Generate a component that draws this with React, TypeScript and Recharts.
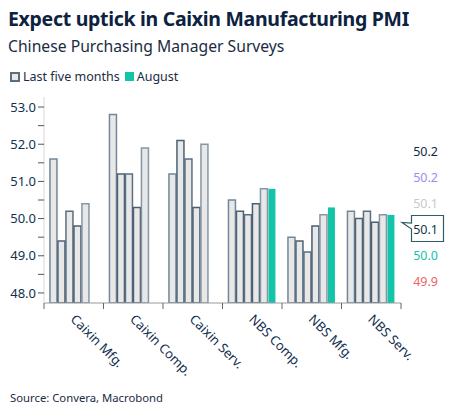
import { BarChart, Bar, XAxis, YAxis } from "recharts";

const categories = ["Caixin Mfg.", "Caixin Comp.", "Caixin Serv.", "NBS Comp.", "NBS Mfg.", "NBS Serv."];
const month1 = [51.6, 52.8, 51.2, 50.5, 49.5, 50.2];
const month2 = [49.4, 51.2, 52.1, 50.2, 49.4, 50.0];
const month3 = [50.2, 51.2, 51.6, 50.1, 49.1, 50.2];
const month4 = [49.8, 50.3, 50.3, 50.4, 49.8, 49.9];
const month5 = [50.4, 51.9, 52.0, 50.8, 50.1, 50.1];
const august = [null, null, null, 50.8, 50.3, 50.1];
const yTicks = [48, 48.5, 49, 49.5, 50, 50.5, 51, 51.5, 52, 52.5, 53];
const sideLabels = ["50.2", "50.2", "50.1", "50.1", "50.0", "49.9"];
const sideColors = ["#0f2a45", "#9c8df2", "#c9c9c9", "#163746", "#13c4a8", "#ee6464"];

const data = categories.map((name, i) => ({
  name,
  m1: month1[i],
  m2: month2[i],
  m3: month3[i],
  m4: month4[i],
  m5: month5[i],
  aug: august[i],
}));

const W = 453;
const H = 417;
const PLOT_LEFT = 44;
const PLOT_RIGHT = 401;
const BAND = (PLOT_RIGHT - PLOT_LEFT) / categories.length;
const FONT = "'Noto Sans', 'Open Sans', sans-serif";
const NAVY = "#13304f";

const greyStrokes = ["#73879a", "#4d6275", "#5a6e80", "#4a5e70", "#8596a6"];

function XTick(props: any) {
  const { x, y, payload, index } = props;
  return (
    <g>
      <line x1={x - BAND / 2} y1={y - 8} x2={x - BAND / 2} y2={y - 2} stroke="#666" />
      {index === categories.length - 1 && (
        <line x1={x + BAND / 2} y1={y - 8} x2={x + BAND / 2} y2={y - 2} stroke="#666" />
      )}
      <text
        x={x - 4}
        y={y + 9}
        transform={`rotate(45 ${x - 4} ${y + 9})`}
        textAnchor="start"
        fontSize={13}
        fill={NAVY}
        fontFamily={FONT}
      >
        {payload.value}
      </text>
    </g>
  );
}

export default function App() {
  return (
    <div
      style={{
        position: "absolute",
        left: 0,
        top: 0,
        width: W,
        height: H,
        background: "#fff",
        fontFamily: FONT,
        overflow: "hidden",
      }}
    >
      <div style={{ position: "absolute", left: 8, top: 5, fontSize: 19.5, fontWeight: 700, color: "#0c2240", letterSpacing: -0.3, whiteSpace: "nowrap" }}>
        Expect uptick in Caixin Manufacturing PMI
      </div>
      <div style={{ position: "absolute", left: 8, top: 35, fontSize: 15.7, color: "#1b2c42", whiteSpace: "nowrap" }}>
        Chinese Purchasing Manager Surveys
      </div>
      <div style={{ position: "absolute", left: 10, top: 68, fontSize: 12.5, color: "#1b2c42", display: "flex", alignItems: "center", whiteSpace: "nowrap" }}>
        <span style={{ width: 6, height: 6, border: "2px solid #5a6e80", background: "#e8e8e8", marginRight: 3, display: "inline-block" }} />
        <span style={{ marginRight: 5 }}>Last five months</span>
        <span style={{ width: 9, height: 9, background: "#13c4a8", marginRight: 3, display: "inline-block" }} />
        <span>August</span>
      </div>

      <div style={{ position: "absolute", left: 0, top: 0 }}>
        <BarChart
          width={W}
          height={H}
          data={data}
          margin={{ top: 97, right: W - PLOT_RIGHT, bottom: 34, left: 0 }}
          barCategoryGap="10%"
          barGap={1}
        >
          <XAxis
            dataKey="name"
            height={80}
            tickLine={false}
            axisLine={{ stroke: "#9a9a9a" }}
            tick={<XTick />}
            interval={0}
          />
          <YAxis
            width={PLOT_LEFT}
            domain={[47.73, 53.27]}
            ticks={yTicks}
            allowDataOverflow
            axisLine={{ stroke: "#d6d6d6" }}
            tickLine={{ stroke: "#555" }}
            tickSize={6}
            tick={{ fontSize: 13, fill: NAVY, fontFamily: FONT }}
            tickFormatter={(v: number) => (Number.isInteger(v) ? v.toFixed(1) : "")}
          />
          <Bar dataKey="m1" fill="#e8e8e8" stroke={greyStrokes[0]} strokeWidth={1.5} isAnimationActive={false} />
          <Bar dataKey="m2" fill="#e8e8e8" stroke={greyStrokes[1]} strokeWidth={1.5} isAnimationActive={false} />
          <Bar dataKey="m3" fill="#e8e8e8" stroke={greyStrokes[2]} strokeWidth={1.5} isAnimationActive={false} />
          <Bar dataKey="m4" fill="#e8e8e8" stroke={greyStrokes[3]} strokeWidth={1.5} isAnimationActive={false} />
          <Bar dataKey="m5" fill="#e8e8e8" stroke={greyStrokes[4]} strokeWidth={1.5} isAnimationActive={false} />
          <Bar dataKey="aug" fill="#13c4a8" isAnimationActive={false} />
        </BarChart>
      </div>

      <svg style={{ position: "absolute", left: 0, top: 0 }} width={W} height={H}>
        <path
          d="M411.5 215.5 H443.5 V241.5 H411.5 V229 L402 222.5 L411.5 223 Z"
          fill="#fff"
          stroke="#2e5c68"
          strokeWidth={1.2}
        />
        {sideLabels.map((v, i) => (
          <text
            key={i}
            x={438}
            y={156 + i * 26}
            textAnchor="end"
            fontSize={12.5}
            fill={sideColors[i]}
            fontFamily={FONT}
          >
            {v}
          </text>
        ))}
      </svg>

      <div style={{ position: "absolute", left: 10, top: 390, fontSize: 11.3, color: "#1b2c42", whiteSpace: "nowrap" }}>
        Source: Convera, Macrobond
      </div>
    </div>
  );
}
